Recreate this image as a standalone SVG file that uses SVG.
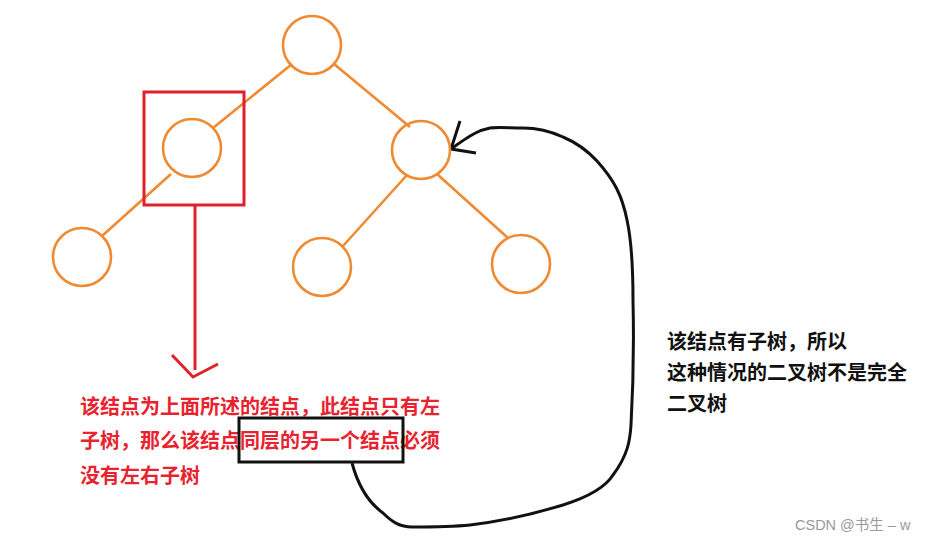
<svg xmlns="http://www.w3.org/2000/svg" width="929" height="542" viewBox="0 0 929 542">
<style>
.n{fill:none;stroke:#F08A30;stroke-width:2.6}
.e{stroke:#F08A30;stroke-width:2.6;fill:none}
.rt{font-family:"Noto Sans CJK SC","Noto Sans",sans-serif;font-weight:bold;font-size:20px;fill:#E8222E}
.bt{font-family:"Noto Sans CJK SC","Noto Sans",sans-serif;font-weight:bold;font-size:20px;fill:#111}
.wm{font-family:"Liberation Sans","Noto Sans CJK SC",sans-serif;font-size:14.5px;fill:#999}
</style>
<rect width="929" height="542" fill="#fff"/>
<g id="connectors">
<line class="e" x1="292" y1="64" x2="213" y2="128"/>
<line class="e" x1="171" y1="174" x2="102" y2="236"/>
<line class="e" x1="334" y1="64" x2="410" y2="127"/>
<line class="e" x1="407" y1="175" x2="343" y2="246"/>
<line class="e" x1="437" y1="174" x2="508" y2="238"/>
<path d="M195 206 V370" stroke="#E0202A" stroke-width="3" fill="none"/>
<path d="M172 355 L193 377 L218 364" stroke="#E0202A" stroke-width="3" fill="none"/>
<path d="M352 463 C356 478 365 500 383 513 C392 522 400 527 412 527 C430 527 450 527 470 525 C505 521 540 512 563 505 C585 498 605 488 613 475 C628 455 630 440 631 425 C633 390 634 343 633 300 C633 270 632 243 627 220 C622 195 614 180 597 161 C585 148 575 142 563 137 C550 131 537 128 523 128 C510 128 498 127 490 128 C480 130 473 133 451 149" stroke="#111" stroke-width="3" fill="none"/>
<path d="M460 121 L451 149 L476 153" stroke="#111" stroke-width="3" fill="none"/>
</g>
<g id="node-root"><circle class="n" cx="312" cy="45" r="29"/></g>
<g id="node-left"><circle class="n" cx="192" cy="148" r="29"/></g>
<g id="node-right"><circle class="n" cx="421" cy="150" r="29"/></g>
<g id="node-left-left"><circle class="n" cx="82" cy="257" r="29"/></g>
<g id="node-right-left"><circle class="n" cx="322" cy="267" r="29"/></g>
<g id="node-right-right"><circle class="n" cx="521" cy="264" r="29"/></g>
<g id="highlight-box"><rect x="144" y="92" width="100" height="113" fill="none" stroke="#E0202A" stroke-width="3"/></g>
<g id="red-note">
<text class="rt" x="80" y="414">该结点为上面所述的结点，此结点只有左</text>
<text class="rt" x="80" y="448">子树，那么该结点同层的另一个结点必须</text>
<text class="rt" x="80" y="483">没有左右子树</text>
</g>
<g id="sibling-box"><rect x="239" y="418" width="164" height="44" fill="none" stroke="#111" stroke-width="3"/></g>
<g id="black-note">
<text class="bt" x="667" y="349">该结点有子树，所以</text>
<text class="bt" x="667" y="380">这种情况的二叉树不是完全</text>
<text class="bt" x="667" y="411">二叉树</text>
</g>
<text class="wm" x="795" y="530">CSDN @书生 – w</text>
</svg>
